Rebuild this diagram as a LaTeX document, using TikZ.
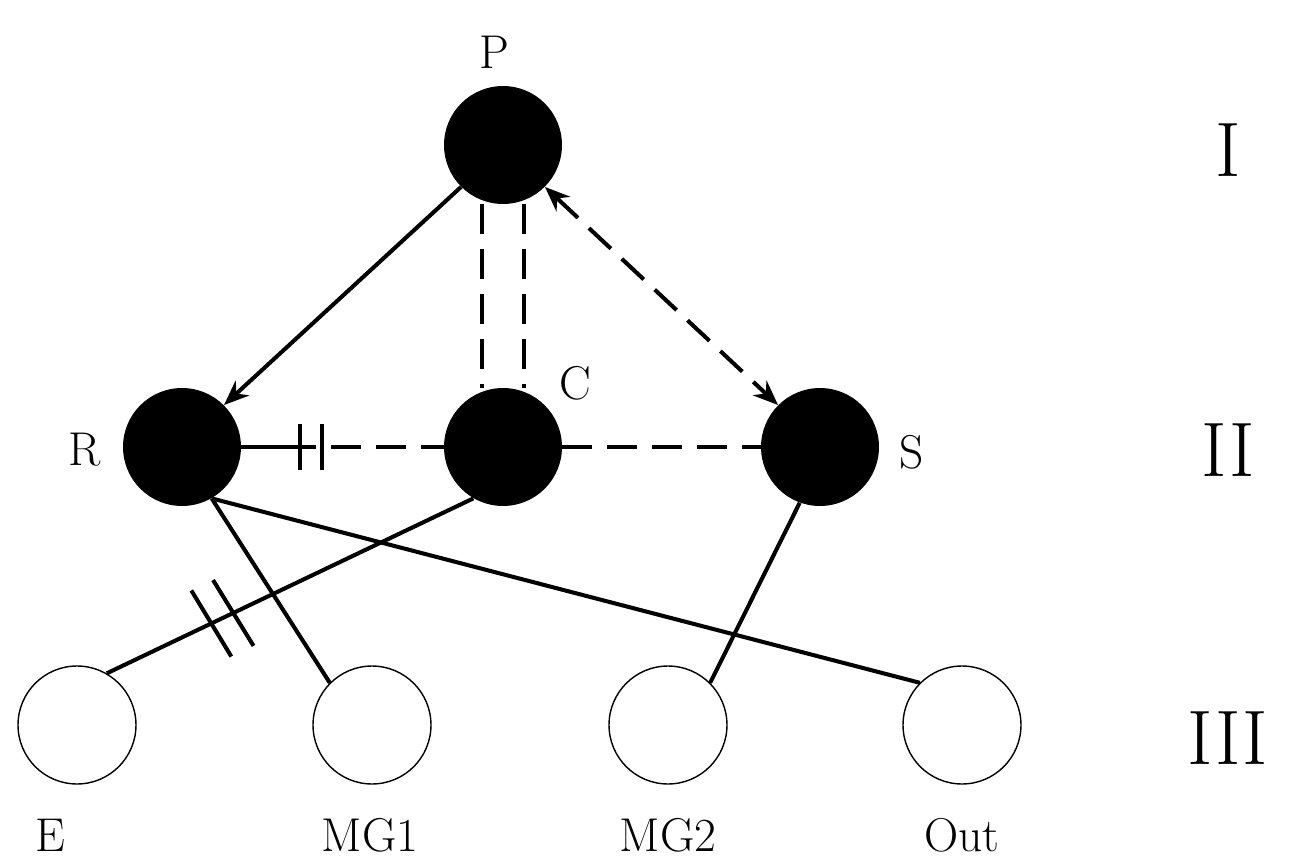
\documentclass[tikz,border=0pt]{standalone}
\usetikzlibrary{arrows.meta,calc}
\begin{document}
\begin{tikzpicture}[x=0.02cm,y=-0.02cm,
  blk/.style={circle,fill=black,minimum size=2.36cm,inner sep=0},
  wht/.style={circle,draw,line width=0.8pt,minimum size=2.36cm,inner sep=0},
  lbl/.style={font=\fontsize{27}{30}\selectfont},
  ln/.style={line width=2.3pt},
  dsh/.style={line width=2.3pt,dash pattern=on 0.6cm off 0.3cm},
  tip/.style={-{Stealth[length=0.5cm,width=0.4cm]}}]
\useasboundingbox (0,0) rectangle (1299,865);
\node[blk] (P) at (503,145) {};
\node[blk] (R) at (182,447) {};
\node[blk] (C) at (503,447) {};
\node[blk] (S) at (820,447) {};
\node[wht] (E) at (77,725) {};
\node[wht] (M1) at (372,725) {};
\node[wht] (M2) at (668,725) {};
\node[wht] (O) at (962,725) {};
\node[lbl] (lP) at (494,52) {P};
\node[lbl] (lR) at (85,450) {R};
\node[lbl] (lC) at (575,383) {C};
\node[lbl] (lS) at (912,452) {S};
\node[lbl] (lE) at (50,835) {E};
\node[lbl] (lM1) at (370,835) {MG1};
\node[lbl] (lM2) at (668,835) {MG2};
\node[lbl] (lO) at (962,835) {Out};
\node[font=\fontsize{44}{46}\selectfont] (r1) at (1228,150) {I};
\node[font=\fontsize{44}{46}\selectfont] (r2) at (1228,450) {II};
\node[font=\fontsize{44}{46}\selectfont] (r3) at (1228,738) {III};
% P to R
\draw[ln,tip] (P.225) -- (R.45);
% P-C double dashed
\draw[dsh] ($(P.south)+(-21,0)$) -- ($(C.north)+(-21,0)$);
\draw[dsh] ($(P.south)+(21,0)$) -- ($(C.north)+(21,0)$);
% P<->S
\draw[dsh,{Stealth[length=0.5cm,width=0.4cm]}-{Stealth[length=0.5cm,width=0.4cm]}] (P.-45) -- (S.135);
% R-C with capacitor
\draw[dsh] (R.east) -- (C.west);
\draw[ln] (R.east) -- (300,447);
\draw[ln] (300,424) -- (300,470);
\draw[ln] (322,424) -- (322,470);
\draw[dsh] (C.east) -- (S.west);
% C to E with capacitor
\coordinate (cA) at ($(E)!1!(C)$);
\draw[ln] (E.60) -- (C.240) coordinate[pos=0.285] (m1) coordinate[pos=0.345] (m2);
\draw[ln] ($(m1)!22pt!90:(C)$) -- ($(m1)!22pt!-90:(C)$);
\draw[ln] ($(m2)!22pt!90:(C)$) -- ($(m2)!22pt!-90:(C)$);
% R lines
\draw[ln] (R.-60) -- (M1.north west);
\draw[ln] (R.-60) -- (O.north west);
\draw[ln] (S.-110) -- (M2.north east);
\end{tikzpicture}
\end{document}
